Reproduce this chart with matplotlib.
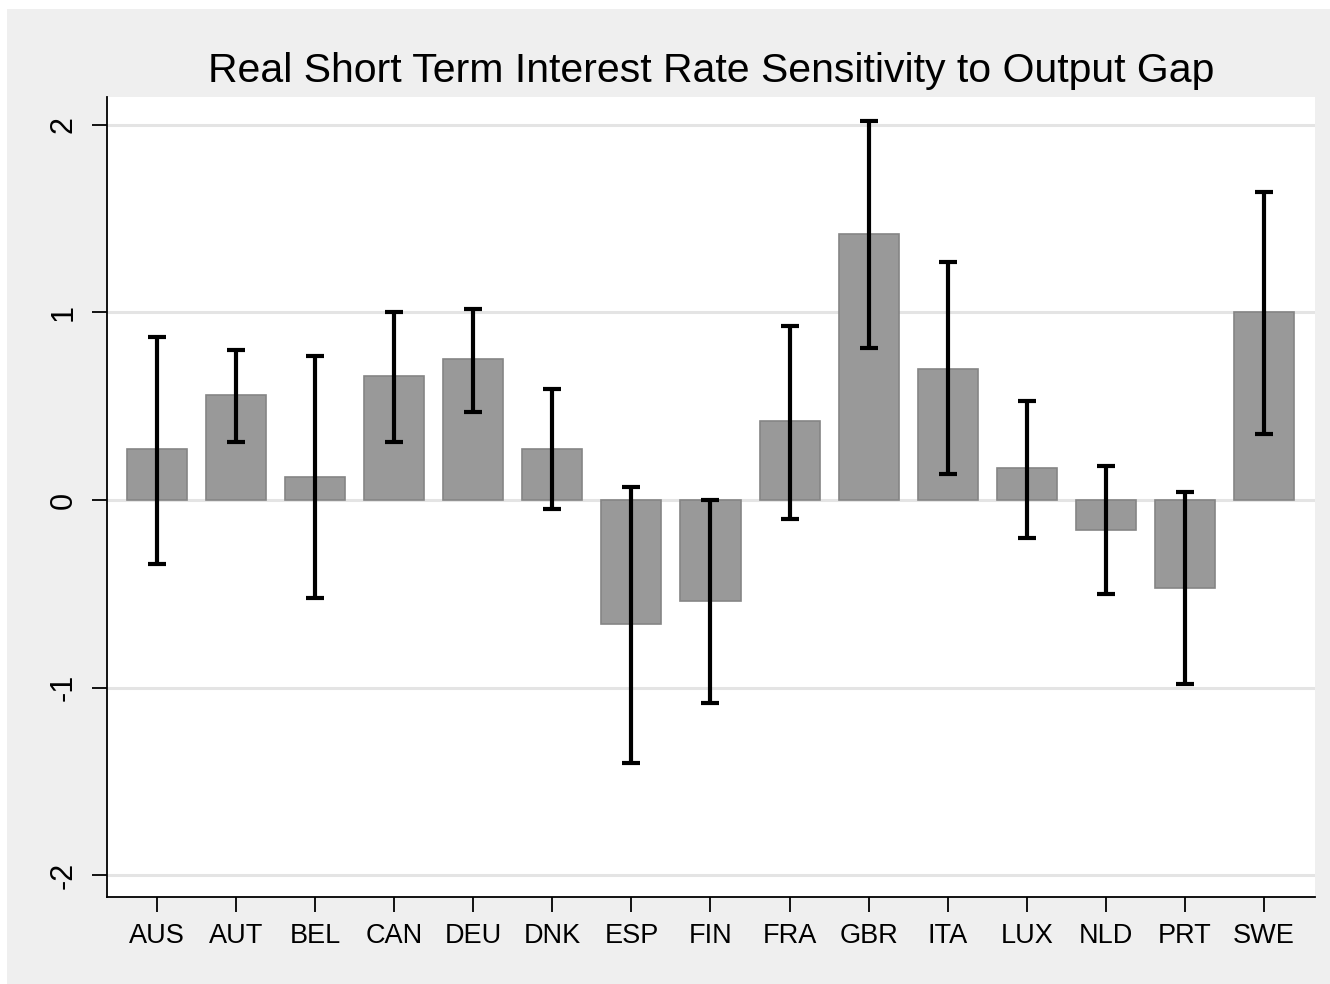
import matplotlib
matplotlib.use("Agg")
import matplotlib.pyplot as plt
from matplotlib.patches import Rectangle
import numpy as np

countries = ["AUS", "AUT", "BEL", "CAN", "DEU", "DNK", "ESP", "FIN",
             "FRA", "GBR", "ITA", "LUX", "NLD", "PRT", "SWE"]
coef = [0.27, 0.56, 0.12, 0.66, 0.75, 0.27, -0.66, -0.54,
        0.42, 1.42, 0.70, 0.17, -0.16, -0.47, 1.00]
ci_low = [-0.34, 0.31, -0.52, 0.31, 0.47, -0.05, -1.40, -1.08,
          -0.10, 0.81, 0.14, -0.20, -0.50, -0.98, 0.35]
ci_high = [0.87, 0.80, 0.77, 1.00, 1.02, 0.59, 0.07, 0.00,
           0.93, 2.02, 1.27, 0.53, 0.18, 0.04, 1.64]
yticks = [-2, -1, 0, 1, 2]

plt.rcParams['font.family'] = ['Liberation Sans', 'DejaVu Sans']

W, H = 1330, 984
fig = plt.figure(figsize=(W / 100, H / 100), dpi=100, facecolor="white")
bg = Rectangle((7 / W, 0), 1 - 7 / W, 1 - 9 / H, transform=fig.transFigure,
               facecolor="#EFEFEF", edgecolor="none", zorder=-10)
fig.add_artist(bg)

ax = fig.add_axes([107 / W, 1 - 897 / H, (1315 - 107) / W, (897 - 97) / H])
ax.set_facecolor("white")
ax.set_zorder(1)

x = np.arange(len(countries))
ax.bar(x, coef, width=0.76, color="#999999", edgecolor="#858585", linewidth=1.2, zorder=2)
coef_a = np.array(coef)
yerr = np.vstack([coef_a - np.array(ci_low), np.array(ci_high) - coef_a])
ax.errorbar(x, coef, yerr=yerr, fmt="none", ecolor="black", elinewidth=3.0,
            capsize=6.5, capthick=3.0, zorder=3)

ax.set_xlim(-0.632, 14.645)
ax.set_ylim(-2.117, 2.149)
ax.set_yticks(yticks)
ax.set_yticklabels([str(v) for v in yticks], rotation=90, va="center", fontsize=22)
ax.set_xticks(x)
ax.set_xticklabels(countries, fontsize=19.5)
ax.yaxis.grid(True, color="#E4E4E4", linewidth=2.2, zorder=0)
ax.set_axisbelow(True)

for s in ["top", "right"]:
    ax.spines[s].set_visible(False)
for s in ["left", "bottom"]:
    ax.spines[s].set_linewidth(1.3)
    ax.spines[s].set_color("black")

ax.tick_params(axis="both", direction="out", length=10.5, width=1.3, color="black")
ax.tick_params(axis="x", pad=8)
ax.tick_params(axis="y", pad=10)

ax.set_title("Real Short Term Interest Rate Sensitivity to Output Gap", fontsize=29.5, pad=11)

fig.savefig("out.png", dpi=100, facecolor=fig.get_facecolor())
